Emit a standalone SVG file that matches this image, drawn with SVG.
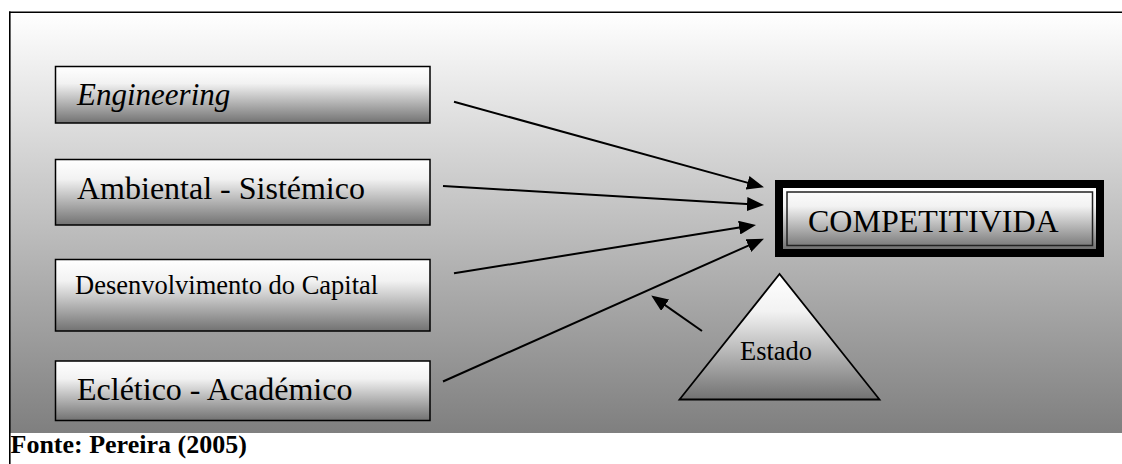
<svg xmlns="http://www.w3.org/2000/svg" width="1122" height="464" viewBox="0 0 1122 464">
  <defs>
    <linearGradient id="bg" x1="0" y1="0" x2="0" y2="1">
      <stop offset="0" stop-color="#ffffff"/>
      <stop offset="1" stop-color="#7f7f7f"/>
    </linearGradient>
    <linearGradient id="node" x1="0" y1="0" x2="0" y2="1">
      <stop offset="0" stop-color="#ffffff"/>
      <stop offset="0.3" stop-color="#f2f2f2"/>
      <stop offset="1" stop-color="#727272"/>
    </linearGradient>
    <marker id="arrow" markerUnits="userSpaceOnUse" markerWidth="17" markerHeight="14" refX="8" refY="7" orient="auto">
      <path d="M0,0 L17,7 L0,14 Z" fill="#000"/>
    </marker>
  </defs>
  <style>
    .box { fill: url(#node); stroke: #000; stroke-width: 1.5; }
    text { font-family: 'Liberation Serif', 'DejaVu Serif', serif; fill: #000; }
    .conn line { stroke: #000; stroke-width: 2; marker-end: url(#arrow); }
  </style>

  <rect width="1122" height="464" fill="#ffffff"/>
  <g id="frame">
    <rect x="10" y="13" width="1112" height="420" fill="url(#bg)"/>
    <line x1="9" y1="12.2" x2="1122" y2="12.2" stroke="#000" stroke-width="1.6"/>
    <line x1="9.8" y1="11.5" x2="9.8" y2="464" stroke="#000" stroke-width="1.6"/>
  </g>

  <g id="node-engineering">
    <rect class="box" x="55.5" y="66.5" width="374.5" height="56.5"/>
    <text x="77" y="105" font-size="31" font-style="italic" font-family="Liberation Serif, serif">Engineering</text>
  </g>
  <g id="node-ambiental">
    <rect class="box" x="55.5" y="159.5" width="374.5" height="65.5"/>
    <text x="77" y="198.5" font-size="32" font-family="Liberation Serif, serif">Ambiental - Sistémico</text>
  </g>
  <g id="node-desenvolvimento">
    <rect class="box" x="55.5" y="259.5" width="374.5" height="71.5"/>
    <text x="75" y="294" font-size="26.5" font-family="Liberation Serif, serif">Desenvolvimento do Capital</text>
  </g>
  <g id="node-ecletico">
    <rect class="box" x="55.5" y="361" width="374.5" height="59.5"/>
    <text x="77" y="400" font-size="32" font-family="Liberation Serif, serif">Eclético - Académico</text>
  </g>

  <g id="node-competitividade">
    <rect x="775" y="180" width="329" height="77" fill="#000"/>
    <rect x="783" y="188" width="313" height="61" fill="url(#node)"/>
    <rect x="787" y="192" width="305.5" height="53.5" fill="none" stroke="#222" stroke-width="1.5"/>
    <text x="808" y="231.5" font-size="32" font-family="Liberation Serif, serif">COMPETITIVIDA</text>
  </g>

  <g id="node-estado">
    <polygon points="779.5,274 679.5,399.5 879.5,399.5" fill="url(#node)" stroke="#000" stroke-width="1.8"/>
    <text x="740" y="360" font-size="26.5" font-family="Liberation Serif, serif">Estado</text>
  </g>

  <g id="connectors" class="conn">
    <line x1="454" y1="101.7" x2="755.3" y2="184.9"/>
    <line x1="443" y1="186" x2="755" y2="204.5"/>
    <line x1="454" y1="273.3" x2="747.1" y2="226.3"/>
    <line x1="443" y1="381.5" x2="755.7" y2="242.3"/>
    <line x1="702" y1="331" x2="658.6" y2="300.6"/>
  </g>

  <g id="caption">
    <text x="10.5" y="453.3" font-size="26" font-weight="bold" font-family="Liberation Serif, serif">Fonte: Pereira (2005)</text>
  </g>
</svg>
